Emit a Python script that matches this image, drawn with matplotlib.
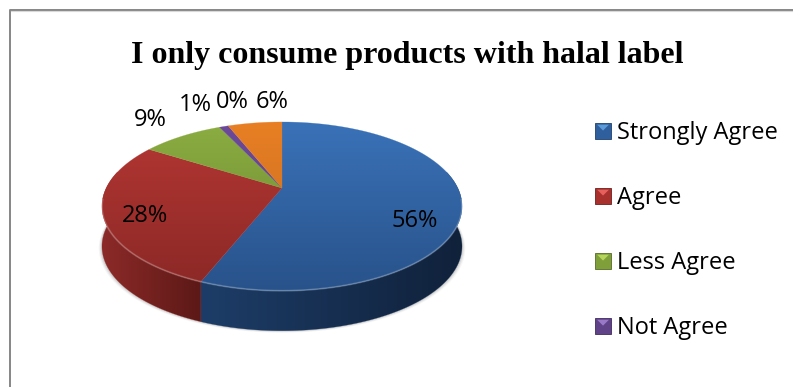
import numpy as np
import matplotlib
matplotlib.use("Agg")
import matplotlib.pyplot as plt
from matplotlib.colors import LinearSegmentedColormap
from matplotlib.legend_handler import HandlerBase
from matplotlib.patches import Patch, Polygon, Rectangle

title = "I only consume products with halal label"
shares = [56, 28, 9, 1, 0, 6]
share_labels = ["56%", "28%", "9%", "1%", "0%", "6%"]
legend_names = ["Strongly Agree", "Agree", "Less Agree", "Not Agree"]

# top-surface colour at far edge / near edge, and side colour at left / right
top_far = ["#3a72b8", "#b53733", "#8bad41", "#6d4a9a", "#2f9ab5", "#e87f24"]
top_near = ["#28528a", "#8a2826", "#6a8432", "#543a78", "#237a90", "#c26a20"]
side_left = ["#1d3d68", "#8c2a28", "#6a8432", "#4a3468", "#1f6a7d", "#a85a1a"]
side_right = ["#10213a", "#5c1917", "#4a5e22", "#33244a", "#154a58", "#7a4012"]

# legend swatches: light bevel triangle and body
bevel_light = ["#5b9bd8", "#e8605c", "#b5d65a", "#9a78c8"]
bevel_body = ["#2f5f9c", "#a8302d", "#7f9f3a", "#5f4288"]
bevel_dark = ["#1f3f6c", "#6e1f1d", "#556b26", "#3f2c5c"]

# pie geometry in pixels
APEX_X, APEX_Y = 282.0, 188.0
SCALE_X, SCALE_Y, TILT = 175.7, 80.4, 0.2176
DEPTH = 40.0

label_xy = [(415, 221), (145, 216), (150, 120), (195, 105), (232, 102), (272, 102)]


def rim(angle_deg):
    """Project clockwise-from-top pie angles onto the tilted disc."""
    a = np.radians(angle_deg)
    u, v = np.sin(a), np.cos(a)
    w = 1 + TILT * v
    return APEX_X + SCALE_X * u / w, APEX_Y - SCALE_Y * v / w


def gradient_fill(ax, poly_xy, colours, vertical, zorder):
    """Fill a polygon with a two-colour linear gradient."""
    x0, y0 = poly_xy.min(axis=0)
    x1, y1 = poly_xy.max(axis=0)
    ramp = np.linspace(0, 1, 128)
    data = ramp[:, None] if vertical else ramp[None, :]
    cmap = LinearSegmentedColormap.from_list("g", colours)
    im = ax.imshow(data, extent=(x0, x1, y1, y0), cmap=cmap, vmin=0, vmax=1,
                   aspect="auto", origin="upper", zorder=zorder, interpolation="bilinear")
    clip = Polygon(poly_xy, closed=True, transform=ax.transData, fc="none", ec="none")
    ax.add_patch(clip)
    im.set_clip_path(clip)
    # thin outline of the mean colour closes the anti-aliasing gap
    ax.add_patch(Polygon(poly_xy, closed=True, fc="none", ec=colours[0], lw=0.3, zorder=zorder, alpha=0.6))


class BevelHandler(HandlerBase):
    def create_artists(self, legend, orig_handle, xd, yd, width, height, fontsize, trans):
        i = int(orig_handle.get_gid())
        s = 11.5
        x0, y0 = -xd + (width - s) / 2, -yd + (height - s) / 2
        body = Rectangle((x0, y0), s, s, fc=bevel_body[i], ec=bevel_dark[i], lw=0.6, transform=trans)
        tri = Polygon([(x0 + 1.5, y0 + s - 1.5), (x0 + s - 1.5, y0 + s - 1.5), (x0 + s / 2, y0 + s * 0.5)],
                      closed=True, fc=bevel_light[i], ec="none", transform=trans)
        return [body, tri]


fig = plt.figure(figsize=(7.93, 3.87), dpi=100)
ax = fig.add_axes([0, 0, 1, 1])
ax.set_xlim(0, 793)
ax.set_ylim(387, 0)
ax.axis("off")

# chart frame: only the top and left edges fall inside the canvas
ax.plot([9.5, 9.5, 793], [387, 9.5, 9.5], color="#868686", lw=1.4, zorder=1)
ax.plot([11, 793], [11, 11], color="#d9d9d9", lw=0.8, zorder=1)

# soft shadow hugging the lower edge
all_angles = np.linspace(0, 360, 361)
sx, sy = rim(all_angles)
for grow, alpha in [(3.2, 0.05), (2.2, 0.08), (1.2, 0.12)]:
    px = APEX_X + (sx - APEX_X) * (1 + grow / 180)
    py = sy + DEPTH + grow * 0.6
    ax.add_patch(Polygon(np.c_[px, py], closed=True, fc="#404040", ec="none", alpha=alpha, zorder=2))

edges = np.cumsum([0] + shares) * 3.6

# sides first, only the part of each slice facing the viewer
for i in range(len(shares)):
    lo, hi = max(edges[i], 78), min(edges[i + 1], 282)
    if hi <= lo or shares[i] == 0:
        continue
    t = np.linspace(lo, hi, 160)
    x, y = rim(t)
    poly = np.r_[np.c_[x, y], np.c_[x[::-1], y[::-1] + DEPTH]]
    gradient_fill(ax, poly, [side_left[i], side_right[i]], vertical=False, zorder=3)

# top surface
for i in range(len(shares)):
    if shares[i] == 0:
        continue
    t = np.linspace(edges[i], edges[i + 1], max(8, int(shares[i] * 6)))
    x, y = rim(t)
    poly = np.r_[[[APEX_X, APEX_Y]], np.c_[x, y]]
    # gradient stays tied to the whole disc height, so slices share one light direction
    frac0 = (poly[:, 1].min() - 122) / 169
    frac1 = (poly[:, 1].max() - 122) / 169
    cmap = LinearSegmentedColormap.from_list("t", [top_far[i], top_near[i]])
    gradient_fill(ax, poly, [cmap(frac0), cmap(frac1)], vertical=True, zorder=4)
    # bevelled highlight along the front of the rim
    front = y > APEX_Y + 10
    if front.any():
        ax.plot(x[front], y[front], color="white", alpha=0.22, lw=1.3, zorder=5, solid_capstyle="butt")

for text, (lx, ly) in zip(share_labels, label_xy):
    ax.text(lx, ly, text, ha="center", va="center", fontsize=17, family="Open Sans", color="black", zorder=6)

ax.text(407.5, 55, title, ha="center", va="center", fontsize=23, family="Liberation Serif",
        fontweight="bold", color="black", zorder=6)

handles = [Patch(gid=str(i), label=name) for i, name in enumerate(legend_names)]
leg = ax.legend(handles=handles, handler_map={Patch: BevelHandler()},
                loc="upper left", bbox_to_anchor=(595 / 793, 1 - 120 / 387),
                frameon=False, borderpad=0, borderaxespad=0,
                handlelength=0.68, handleheight=1.0, handletextpad=0.25,
                labelspacing=1.71, prop={"family": "Open Sans", "size": 17})

fig.savefig("out.png", dpi=100, facecolor="white")
